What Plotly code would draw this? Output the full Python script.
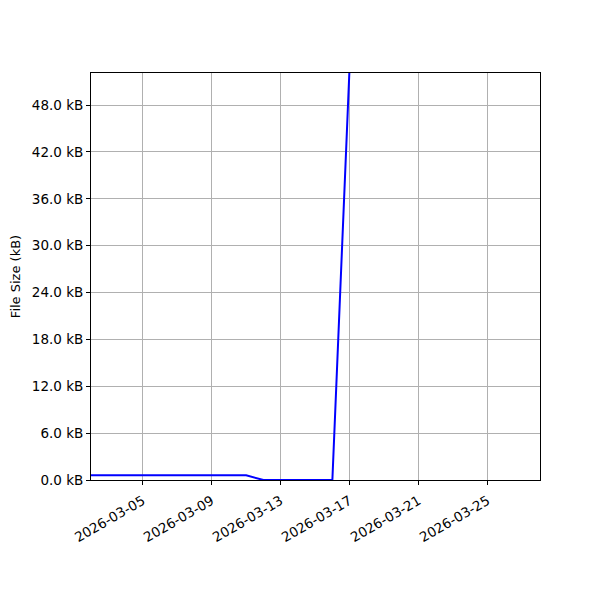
import plotly.graph_objects as go
import pandas as pd

# daily file size readings (kB)
dates = pd.date_range("2026-03-02", "2026-03-17", freq="D")
sizes_kb = [0.6, 0.6, 0.6, 0.6, 0.6, 0.6, 0.6, 0.6, 0.6, 0.6,
            0.0, 0.0, 0.0, 0.0, 0.0, 53.0]

x_range = ["2026-03-02", "2026-03-28 01:00"]
y_range = [0, 52.1]
y_ticks = [0, 6, 12, 18, 24, 30, 36, 42, 48]
y_labels = [f"{v:.1f} kB" for v in y_ticks]
x_ticks = ["2026-03-05", "2026-03-09", "2026-03-13", "2026-03-17", "2026-03-21", "2026-03-25"]

fig = go.Figure()
fig.add_trace(go.Scatter(x=dates, y=sizes_kb, mode="lines",
                         line=dict(color="blue", width=2), showlegend=False))

axis_style = dict(showline=True, linecolor="black", linewidth=1, mirror=True,
                  ticks="outside", ticklen=4, tickcolor="black",
                  showgrid=True, gridcolor="#b0b0b0", gridwidth=1, zeroline=False,
                  tickfont=dict(size=13.5))

fig.update_xaxes(range=x_range, tickvals=x_ticks, tickformat="%Y-%m-%d",
                 tickangle=-30, ticklabelstandoff=3, **axis_style)
fig.update_yaxes(range=y_range, tickvals=y_ticks, ticktext=y_labels,
                 title=dict(text="File Size (kB)", standoff=10, font=dict(size=13)),
                 **axis_style)

# page body adds a small offset, so margins are trimmed to land the axes box
fig.update_layout(width=600, height=600, plot_bgcolor="white", paper_bgcolor="white",
                  margin=dict(l=83, r=68, t=65, b=128, autoexpand=False),
                  font=dict(family="DejaVu Sans", size=13, color="black"))

fig.write_html("out.html")
